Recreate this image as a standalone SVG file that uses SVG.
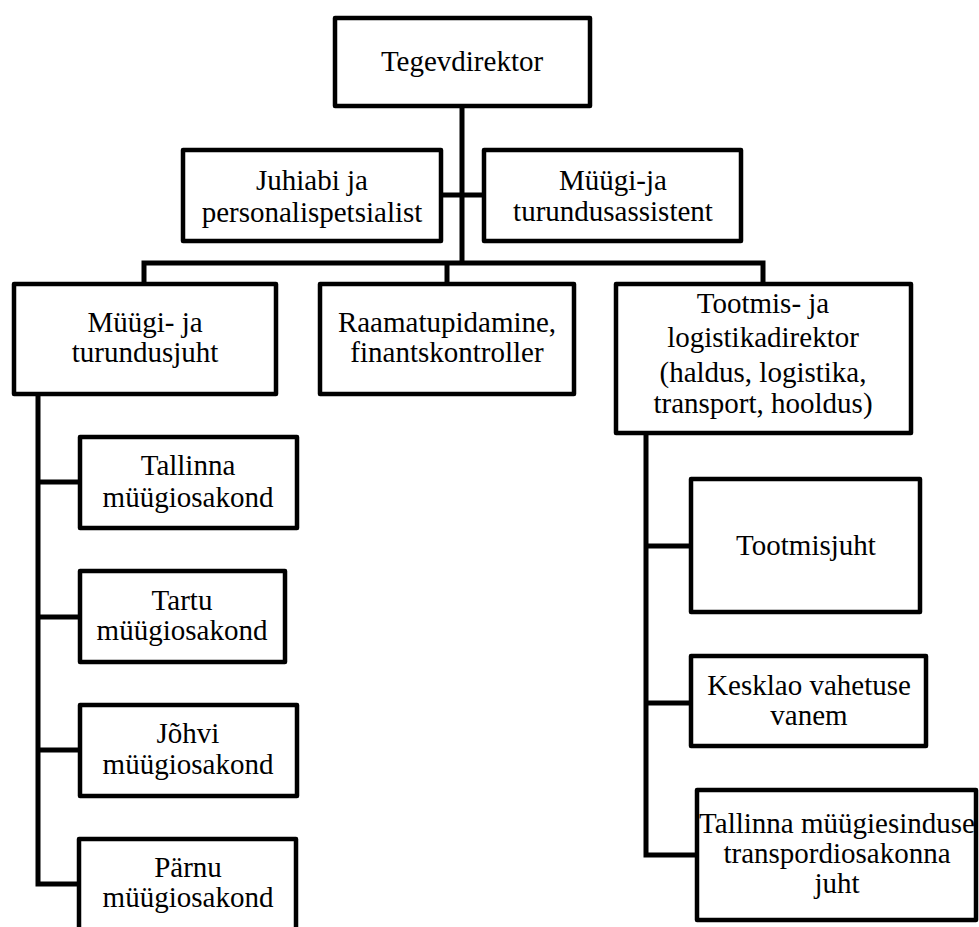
<svg xmlns="http://www.w3.org/2000/svg" width="979" height="927" viewBox="0 0 979 927">
<style>
.box{fill:#fff;stroke:#000;stroke-width:4.5;stroke-linejoin:round}
.ln{fill:none;stroke:#000;stroke-width:5;stroke-linejoin:miter}
text{font-family:"Liberation Serif",serif;font-size:29px;fill:#000;text-anchor:middle}
</style>
<rect width="979" height="927" fill="#fff"/>
<g id="connectors">
<path class="ln" d="M462,108 V263"/>
<path class="ln" d="M443,195 H482"/>
<path class="ln" d="M144,282 V263 H763 V282"/>
<path class="ln" d="M447,263 V282"/>
<path class="ln" d="M38,396 V884 H78"/>
<path class="ln" d="M38,482 H78"/>
<path class="ln" d="M38,617 H78"/>
<path class="ln" d="M38,750 H78"/>
<path class="ln" d="M646,435 V855 H695"/>
<path class="ln" d="M646,546 H689"/>
<path class="ln" d="M646,703 H689"/>
</g>
<g id="nodes" style="font-family:'Liberation Serif',serif">
<g id="n-tegevdirektor">
<rect class="box" x="335" y="18" width="255" height="88"/>
<text x="462" y="71" font-family="Liberation Serif">Tegevdirektor</text>
</g>
<g id="n-juhiabi">
<rect class="box" x="183" y="150" width="258" height="91"/>
<text x="312" y="190">Juhiabi ja</text>
<text x="312" y="222">personalispetsialist</text>
</g>
<g id="n-assistent">
<rect class="box" x="484" y="150" width="257" height="91"/>
<text x="613" y="190">Müügi-ja</text>
<text x="613" y="221">turundusassistent</text>
</g>
<g id="n-turundusjuht">
<rect class="box" x="14" y="284" width="262" height="110"/>
<text x="145" y="332">Müügi- ja</text>
<text x="145" y="362">turundusjuht</text>
</g>
<g id="n-raamatupidamine">
<rect class="box" x="320" y="284" width="254" height="110"/>
<text x="447" y="332">Raamatupidamine,</text>
<text x="447" y="362">finantskontroller</text>
</g>
<g id="n-tootmis">
<rect class="box" x="616" y="284" width="295" height="149"/>
<text x="763" y="313">Tootmis- ja</text>
<text x="763" y="347">logistikadirektor</text>
<text x="763" y="382">(haldus, logistika,</text>
<text x="763" y="413">transport, hooldus)</text>
</g>
<g id="n-tallinna">
<rect class="box" x="80" y="437" width="217" height="91"/>
<text x="188" y="475">Tallinna</text>
<text x="188" y="507">müügiosakond</text>
</g>
<g id="n-tartu">
<rect class="box" x="80" y="571" width="205" height="91"/>
<text x="182" y="610">Tartu</text>
<text x="182" y="640">müügiosakond</text>
</g>
<g id="n-johvi">
<rect class="box" x="80" y="705" width="217" height="91"/>
<text x="188" y="743">Jõhvi</text>
<text x="188" y="774">müügiosakond</text>
</g>
<g id="n-parnu">
<rect class="box" x="79" y="839" width="217" height="100"/>
<text x="188" y="877">Pärnu</text>
<text x="188" y="907">müügiosakond</text>
</g>
<g id="n-tootmisjuht">
<rect class="box" x="691" y="479" width="229" height="133"/>
<text x="806" y="555">Tootmisjuht</text>
</g>
<g id="n-kesklao">
<rect class="box" x="691" y="656" width="235" height="90"/>
<text x="809" y="695">Kesklao vahetuse</text>
<text x="809" y="725">vanem</text>
</g>
<g id="n-transport">
<rect class="box" x="697" y="790" width="279" height="130"/>
<text x="837" y="833">Tallinna müügiesinduse</text>
<text x="837" y="863">transpordiosakonna</text>
<text x="837" y="893">juht</text>
</g>
</g>
</svg>
